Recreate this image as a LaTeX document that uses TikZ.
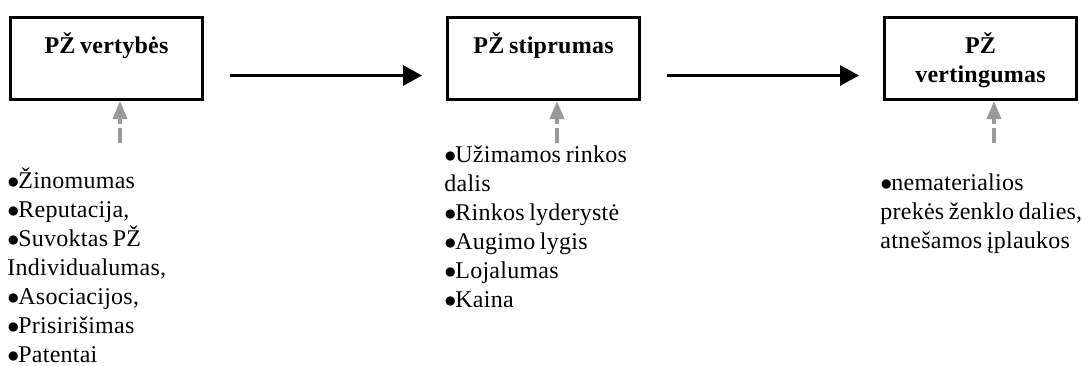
\documentclass[tikz,border=0pt]{standalone}
\usepackage{fontspec}
\setmainfont[LetterSpace=1,WordSpace=0.75]{Liberation Serif}
\usetikzlibrary{arrows.meta,positioning}
\definecolor{hintgray}{gray}{0.6}
\newcommand{\itm}{\(\bullet\)\kern-0.5pt}
\begin{document}
\begin{tikzpicture}[
  box/.style={rectangle, draw=black, line width=1.5pt, minimum width=96pt, minimum height=41pt, inner sep=0pt},
  title/.style={anchor=north, inner sep=0pt, align=center, font=\fontsize{12pt}{14.5pt}\selectfont\bfseries},
  factors/.style={anchor=north west, inner sep=0pt, align=left, font=\fontsize{12pt}{14.5pt}\selectfont},
  flow/.style={line width=1.5pt, -{Triangle[length=9.5pt,width=10pt]}},
  hint/.style={draw=hintgray, line width=1.75pt, dash pattern=on 7.5pt off 2pt, -{Triangle[length=9pt,width=7pt,fill=hintgray]}}]
\useasboundingbox (0,0) rectangle (541pt,-182.5pt);
\node[box] at (53.25pt,-29.25pt) (B1) {};
\node[box] at ([xshift=218.5pt]B1.center) (B2) {};
\node[box] at ([xshift=218.5pt]B2.center) (B3) {};
\node[title] at ([yshift=-8.35pt]B1.north) (T1) {\strut PŽ vertybės};
\node[title] at ([yshift=-8.35pt]B2.north) (T2) {\strut PŽ stiprumas};
\node[title] at ([yshift=-8.35pt]B3.north) (T3) {\strut PŽ\\vertingumas};
\node[shape=coordinate] at ([xshift=13pt,yshift=-8.5pt]B1.east) (P1) {};
\node[shape=coordinate] at ([xshift=-12pt,yshift=-8.5pt]B2.west) (P2) {};
\node[shape=coordinate] at ([xshift=13pt,yshift=-8.5pt]B2.east) (P3) {};
\node[shape=coordinate] at ([xshift=-12pt,yshift=-8.5pt]B3.west) (P4) {};
\draw[flow] (P1) -- (P2);
\draw[flow] (P3) -- (P4);
\node[factors] at ([xshift=-1pt,yshift=-33pt]B1.south west) (L1) {\strut\itm Žinomumas\\\itm Reputacija,\\\itm Suvoktas PŽ\\Individualumas,\\\itm Asociacijos,\\\itm Prisirišimas\\\itm Patentai};
\node[factors] at ([xshift=-1pt,yshift=-20.35pt]B2.south west) (L2) {\strut\itm Užimamos rinkos\\dalis\\\itm Rinkos lyderystė\\\itm Augimo lygis\\\itm Lojalumas\\\itm Kaina};
\node[factors] at ([xshift=-1.5pt,yshift=-34.35pt]B3.south west) (L3) {\strut\itm nematerialios\\prekės ženklo dalies,\\atnešamos įplaukos};
\node[shape=coordinate] at ([xshift=6.75pt,yshift=-21pt]B1.south) (H1) {};
\node[shape=coordinate] at ([xshift=6.75pt,yshift=-21pt]B2.south) (H2) {};
\node[shape=coordinate] at ([xshift=6.75pt,yshift=-21pt]B3.south) (H3) {};
\draw[hint] (H1) -- (H1 |- B1.south);
\draw[hint] (H2) -- (H2 |- B2.south);
\draw[hint] (H3) -- (H3 |- B3.south);
\end{tikzpicture}
\end{document}
